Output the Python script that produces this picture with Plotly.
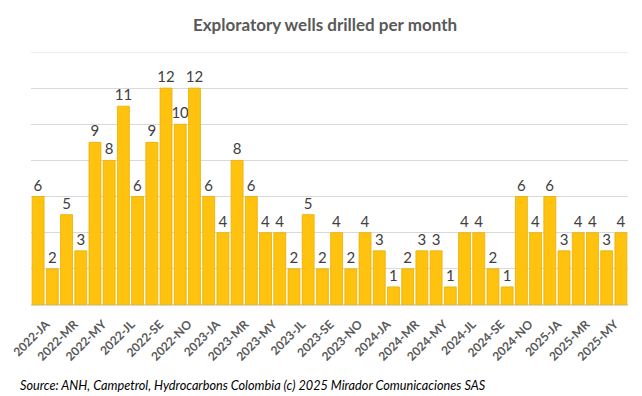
import plotly.graph_objects as go

months = ["JA", "FE", "MR", "AB", "MY", "JN", "JL", "AG", "SE", "OC", "NO", "DI"]
years = [2022, 2023, 2024, 2025]
categories = [f"{y}-{m}" for y in years for m in months][:42]
wells = [6, 2, 5, 3, 9, 8, 11, 6, 9, 12, 10, 12,
         6, 4, 8, 6, 4, 4, 2, 5, 2, 4, 2, 4,
         3, 1, 2, 3, 3, 1, 4, 4, 2, 1, 6, 4,
         6, 3, 4, 4, 3, 4]
tick_labels = categories[::2]
y_max = 14

FONT = "Lato, Open Sans, sans-serif"

fig = go.Figure()
fig.add_trace(go.Bar(
    x=categories, y=wells,
    marker=dict(color="#FFC20E", line=dict(color="#E8B000", width=0.8)),
    text=[str(v) for v in wells], textposition="outside",
    constraintext="none",
    textfont=dict(family=FONT, size=15, color="#404040"),
    cliponaxis=False,
))

fig.update_layout(
    width=634, height=388,
    margin=dict(l=23, r=14, t=44, b=91, autoexpand=False),
    paper_bgcolor="white", plot_bgcolor="white",
    bargap=0.16,
    showlegend=False,
    title=dict(text="<b>Exploratory wells drilled per month</b>", x=0.5, xanchor="center",
               y=0.955, yanchor="middle",
               font=dict(family=FONT, size=17, color="#595959")),
    xaxis=dict(type="category", tickmode="array", tickvals=tick_labels, ticktext=[f"<b>{t}</b>" for t in tick_labels],
               tickangle=-45, showgrid=False, showline=False, ticks="", automargin=False,
               ticklabelstandoff=9, ticklabelshift=8,
               tickfont=dict(family=FONT, size=12, color="#595959")),
    yaxis=dict(range=[0, y_max], dtick=2, showticklabels=False, showgrid=True, automargin=False,
               gridcolor="#D9D9D9", gridwidth=1, zeroline=True, zerolinecolor="#D9D9D9",
               showline=False),
    font=dict(family=FONT),
)

fig.add_shape(type="line", xref="paper", yref="y", x0=0, x1=1, y0=y_max, y1=y_max,
              line=dict(color="#D9D9D9", width=1), layer="below")

fig.add_annotation(
    text="<i>Source: ANH, Campetrol, Hydrocarbons Colombia (c) 2025 Mirador Comunicaciones SAS</i>",
    xref="paper", yref="paper", x=-0.022, y=-0.316, xanchor="left", yanchor="middle",
    showarrow=False, font=dict(family=FONT, size=12.7, color="#000000"),
)

fig.write_html("out.html")
